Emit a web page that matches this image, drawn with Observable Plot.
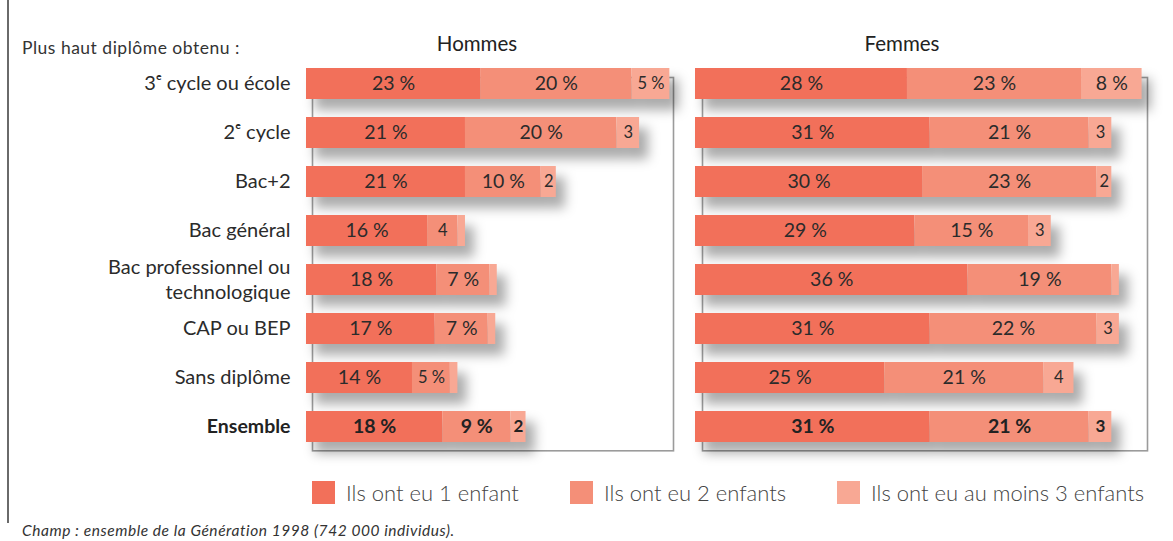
<!DOCTYPE html>
<html><head><meta charset="utf-8">
<script src="https://cdn.jsdelivr.net/npm/d3@7"></script>
<script src="https://cdn.jsdelivr.net/npm/@observablehq/plot@0.6"></script>
<style>
body{margin:0;background:#fff;}
#wrap{position:relative;width:1173px;height:541px;overflow:hidden;font-family:Lato,"DejaVu Sans",sans-serif;color:#333;}
#vline{position:absolute;left:7px;top:0;width:2px;height:523px;background:#6a6a6a;}
#hdr{position:absolute;left:22px;top:37px;font-size:17.5px;font-weight:400;letter-spacing:0.5px;color:#333;white-space:nowrap;}
.ttl{position:absolute;top:31px;font-size:20.5px;color:#222;transform:translateX(-50%);white-space:nowrap;}
#p1{position:absolute;left:0;top:0;}
#p2{position:absolute;left:690px;top:0;}
.lg{position:absolute;top:479px;display:flex;align-items:center;font-size:22px;font-weight:300;color:#444;white-space:nowrap;}
.lg span.sw{display:inline-block;width:23px;height:23px;margin-right:11px;}
#cap{position:absolute;left:22px;top:521px;font-size:15.5px;font-style:italic;letter-spacing:0.55px;color:#333;white-space:nowrap;}
</style></head><body>
<div id="wrap">
 <div id="vline"></div>
 <div id="hdr">Plus haut diplôme obtenu :</div>
 <div class="ttl" style="left:477px">Hommes</div>
 <div class="ttl" style="left:902px">Femmes</div>
 <div id="p1"></div><div id="p2"></div>
 <div id="legend"></div>
 <div id="cap">Champ : ensemble de la Génération 1998 (742 000 individus).</div>
</div>
<script>
const categories = ["3ᵉ cycle ou école","2ᵉ cycle","Bac+2","Bac général","Bac professionnel ou\ntechnologique","CAP ou BEP","Sans diplôme","Ensemble"];
const series = ["Ils ont eu 1 enfant","Ils ont eu 2 enfants","Ils ont eu au moins 3 enfants"];
const colors = ["#f2705a","#f48f78","#f8a894"];

const hommes1 = [23, 21, 21, 16, 17.2, 17, 14, 18];
const hommes2 = [20, 20, 10, 4, 7, 7, 5, 9];
const hommes3 = [5, 3, 2, 1, 1, 1, 1, 2];
const hommesLab1 = ["23 %","21 %","21 %","16 %","18 %","17 %","14 %","18 %"];
const hommesLab2 = ["20 %","20 %","10 %","4","7 %","7 %","5 %","9 %"];
const hommesLab3 = ["5 %","3","2","","","","","2"];

const femmes1 = [28, 31, 30, 29, 36, 31, 25, 31];
const femmes2 = [23, 21, 23, 15, 19, 22, 21, 21];
const femmes3 = [8, 3, 2, 3, 1, 3, 4, 3];
const femmesLab1 = ["28 %","31 %","30 %","29 %","36 %","31 %","25 %","31 %"];
const femmesLab2 = ["23 %","21 %","23 %","15 %","19 %","22 %","21 %","21 %"];
const femmesLab3 = ["8 %","3","2","3","","3","4","3"];

function rows(vals, labs) {
  const out = [];
  categories.forEach((c, i) => {
    let s = 0;
    vals.forEach((v, k) => {
      out.push({cat: c, serie: series[k], x1: s, x2: s + v[i], value: v[i], label: labs[k][i]});
      s += v[i];
    });
  });
  return out;
}
const dataH = rows([hommes1, hommes2, hommes3], [hommesLab1, hommesLab2, hommesLab3]);
const dataF = rows([femmes1, femmes2, femmes3], [femmesLab1, femmesLab2, femmesLab3]);

const FONT = "Lato, 'DejaVu Sans', sans-serif";

function panel(data, o) {
  const marks = [
    Plot.frame({stroke: "#9b9b9b", strokeWidth: 1.6, insetLeft: o.insetLeft, insetRight: o.insetRight, insetTop: 19, insetBottom: 2}),
    Plot.barX(data, {x1: "x1", x2: "x2", y: "cat", fill: "serie"}),
    Plot.text(data.filter(d => d.cat !== "Ensemble"), {x: d => (d.x1 + d.x2) / 2, y: "cat", text: "label", fontSize: d => d.value < 6 ? 16.5 : 19.5, fill: "#2b2b2b"}),
    Plot.text(data.filter(d => d.cat === "Ensemble"), {x: d => (d.x1 + d.x2) / 2, y: "cat", text: "label", fontSize: d => d.value < 6 ? 17 : 19.5, fontWeight: "bold", fill: "#222"})
  ];
  if (o.labels) {
    marks.push(Plot.text(categories.filter(c => c !== "Ensemble"), {y: d => d, text: d => d, frameAnchor: "left", textAnchor: "end", dx: -16, dy: -2, fontSize: 20, lineHeight: 1.25, fill: "#2b2b2b"}));
    marks.push(Plot.text(categories.filter(c => c === "Ensemble"), {y: d => d, text: d => d, frameAnchor: "left", textAnchor: "end", dx: -16, fontSize: 19.5, fontWeight: "bold", fill: "#222"}));
  }
  const svg = Plot.plot({
    width: o.width, height: 470,
    marginLeft: o.marginLeft, marginRight: o.marginRight, marginTop: 58, marginBottom: 17.7,
    style: {fontFamily: FONT, background: "transparent", overflow: "visible"},
    x: {domain: [0, o.xmax], axis: null},
    y: {domain: categories, axis: null, paddingInner: 0.37, paddingOuter: 0.185},
    color: {domain: series, range: colors},
    marks
  });
  const bars = svg.querySelector('g[aria-label="bar"]');
  if (bars) bars.style.filter = "drop-shadow(9px 11px 6px rgba(0,0,0,0.33))";
  return svg;
}

document.getElementById("p1").appendChild(panel(dataH, {width: 690, marginLeft: 306, marginRight: 5.5, xmax: 50, insetLeft: 6, insetRight: 11.5, labels: true}));
document.getElementById("p2").appendChild(panel(dataF, {width: 483, marginLeft: 5, marginRight: 8.7, xmax: 62, insetLeft: 7, insetRight: 17.3, labels: false}));

const lgPos = [312, 570, 837];
const lg = document.getElementById("legend");
series.forEach((s, i) => {
  const d = document.createElement("div");
  d.className = "lg";
  d.style.left = lgPos[i] + "px";
  d.innerHTML = `<span class="sw" style="background:${colors[i]}"></span>${s}`;
  lg.appendChild(d);
});
</script>
</body></html>
